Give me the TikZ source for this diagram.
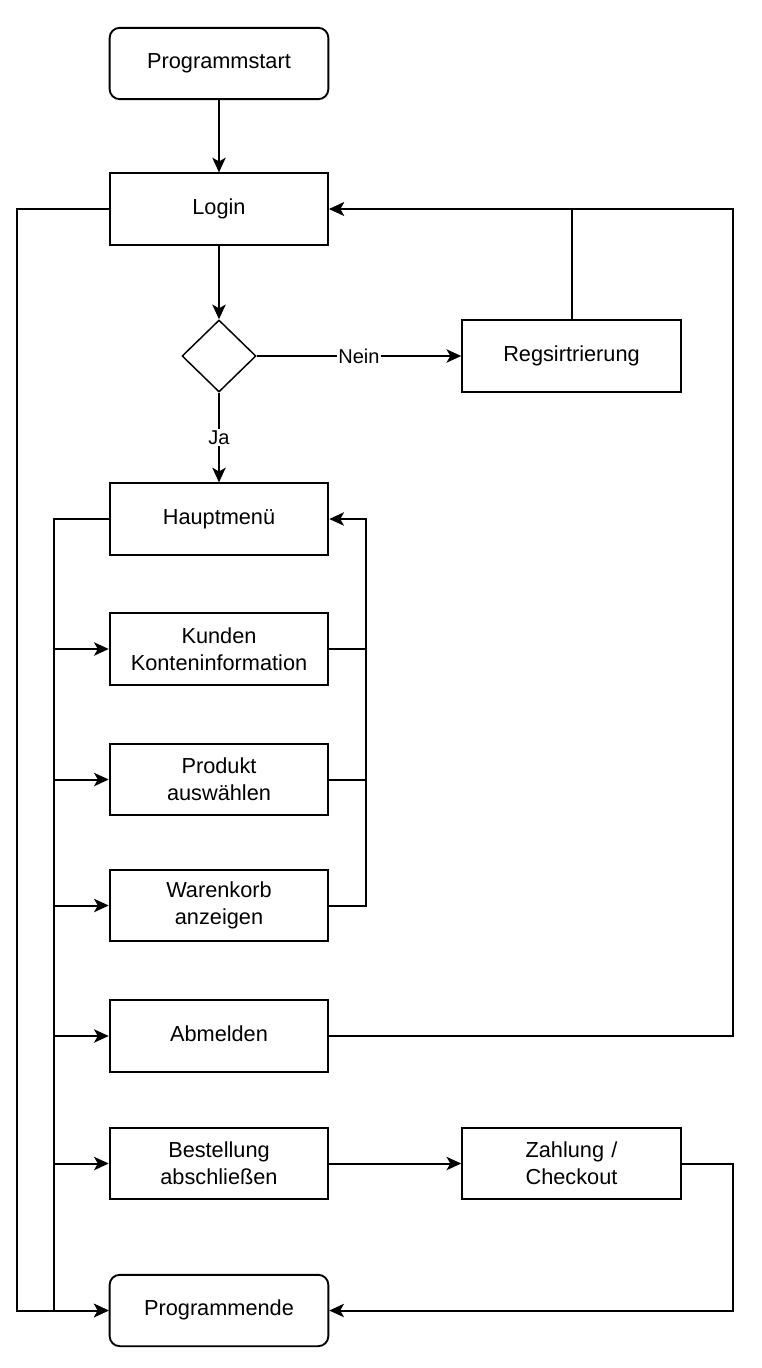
\documentclass[tikz,border=0pt]{standalone}
\usepackage{fontspec}
\setmainfont{Liberation Sans}
\usetikzlibrary{arrows.meta,shapes.geometric,calc}
\begin{document}
\begin{tikzpicture}[x=0.75pt,y=-0.75pt,
  every node/.style={font=\fontsize{16.3pt}{20.3pt}\selectfont},
  box/.style={draw,line width=1.4pt,minimum width=164pt,minimum height=53.5pt,inner sep=0pt,align=center,text width=150pt},
  rbox/.style={box,rounded corners=7.5pt},
  dec/.style={draw,line width=1.1pt,diamond,minimum width=55.5pt,minimum height=54pt,inner sep=0pt},
  lbl/.style={fill=white,inner sep=1pt,font=\fontsize{15pt}{17pt}\selectfont},
  ln/.style={line width=1.5pt},
  arr/.style={ln,-{Stealth[length=11pt,width=10pt,inset=2.8pt]}}]
\useasboundingbox (0,0) rectangle (762,1368);
\node[rbox] (start) at (219,63.5) {Programmstart};
\node[box] (login) at (219,209) {\strut Login};
\node[dec] (dec) at (219,356) {};
\node[box] (reg) at (571.5,356) {\strut Regsirtrierung};
\node[box] (haupt) at (219,519) {\strut Hauptmenü};
\node[box] (kunden) at (219,649) {Kunden\\Konteninformation};
\node[box] (produkt) at (219,779.5) {Produkt\\auswählen};
\node[box] (waren) at (219,905.5) {Warenkorb\\anzeigen};
\node[box] (abm) at (219,1036) {\strut Abmelden};
\node[box] (best) at (219,1163.5) {Bestellung\\abschließen};
\node[box] (zahl) at (571.5,1163.5) {Zahlung /\\Checkout};
\node[rbox] (ende) at (219,1310.5) {\strut Programmende};
\coordinate (rA) at (733,1036);
\coordinate (rB) at (733,209);
\coordinate (l1) at (17,209);
\coordinate (l2) at (17,1310.5);
\coordinate (bus) at (54,519);
\coordinate (bus2) at (54,1310.5);
\coordinate (rb) at (366,519);
\coordinate (zr) at (733,1163.5);
\draw[arr] (start) -- (login);
\draw[arr] (login) -- (dec);
\draw[arr] (dec) -- node[lbl]{Nein} (reg);
\draw[arr] (dec) -- node[lbl]{Ja} (haupt);
\draw[arr] (reg.north) |- (login.east);
\draw[arr] (abm.east) -- (rA) -- (rB) -- (login.east);
\draw[arr] (login.west) -- (l1) -- (l2) -- (ende.west);
\draw[arr] (haupt.west) -- (bus) -- (bus2) -- (ende.west);
\draw[arr] (bus |- kunden.west) -- (kunden.west);
\draw[arr] (bus |- produkt.west) -- (produkt.west);
\draw[arr] (bus |- waren.west) -- (waren.west);
\draw[arr] (bus |- abm.west) -- (abm.west);
\draw[arr] (bus |- best.west) -- (best.west);
\draw[ln] (kunden.east) -- (rb |- kunden.east);
\draw[ln] (produkt.east) -- (rb |- produkt.east);
\draw[arr] (waren.east) -| (rb) -- (haupt.east);
\draw[arr] (best) -- (zahl);
\draw[arr] (zahl.east) -- (zr) |- (ende.east);
\end{tikzpicture}
\end{document}
